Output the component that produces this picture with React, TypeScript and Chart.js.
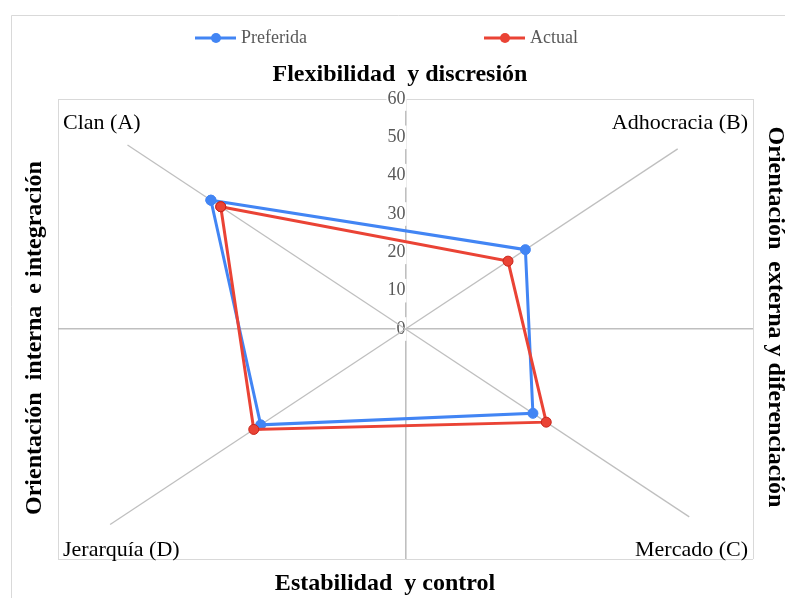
import React, { useEffect, useRef } from 'react';
import { Chart, registerables } from 'chart.js';

Chart.register(...registerables);

// ---- data ----
const categories = ['Clan (A)', 'Adhocracia (B)', 'Mercado (C)', 'Jerarquía (D)'];
const dirX = [-1, 1, 1, -1];
const dirY = [1, 1, -1, -1];
const preferida = [33.6, 20.7, 22, 25];
const actual = [31.9, 17.7, 24.3, 26.2];
const seriesNames = ['Preferida', 'Actual'];
const seriesColors = ['#4285F4', '#EA4335'];
const axisMin = -60;
const axisMax = 60;
const yStep = 10;
const spokeLengths = [48, 47, 49, 51];
const titleTop = 'Flexibilidad  y discresión';
const titleBottom = 'Estabilidad  y control';
const titleLeft = 'Orientación  interna  e integración';
const titleRight = 'Orientación  externa y diferenciación';

const SERIF = "'Liberation Serif', 'Times New Roman', serif";

function polygon(values: number[]) {
  const pts = values.map((v, i) => ({ x: dirX[i] * v, y: dirY[i] * v }));
  pts.push(pts[0]);
  return pts;
}

const textPlugin = {
  id: 'quadrantText',
  beforeDraw(chart: any) {
    const { ctx, width, height } = chart;
    ctx.save();
    ctx.fillStyle = '#ffffff';
    ctx.fillRect(0, 0, width, height);
    ctx.strokeStyle = '#d9d9d9';
    ctx.lineWidth = 1;
    ctx.beginPath();
    ctx.moveTo(11.5, height);
    ctx.lineTo(11.5, 15.5);
    ctx.lineTo(width, 15.5);
    ctx.stroke();
    ctx.restore();
  },
  afterDraw(chart: any) {
    const { ctx, chartArea: a } = chart;
    ctx.save();
    // category labels
    ctx.font = `22px ${SERIF}`;
    ctx.fillStyle = '#000000';
    ctx.textBaseline = 'middle';
    categories.forEach((c, i) => {
      const left = dirX[i] < 0;
      ctx.textAlign = left ? 'left' : 'right';
      const x = left ? a.left + 5 : a.right - 5;
      const y = dirY[i] > 0 ? a.top + 24 : a.bottom - 9;
      ctx.fillText(c, x, y);
    });
    // titles
    ctx.font = `bold 24px ${SERIF}`;
    ctx.textAlign = 'center';
    ctx.fillText(titleTop, 400, 75);
    ctx.fillText(titleBottom, 385, 584);
    ctx.save();
    ctx.translate(35, 338);
    ctx.rotate(-Math.PI / 2);
    ctx.fillText(titleLeft, 0, 0);
    ctx.restore();
    ctx.save();
    ctx.translate(775, 317);
    ctx.rotate(Math.PI / 2);
    ctx.fillText(titleRight, 0, 0);
    ctx.restore();
    // legend
    const legendX = [195, 484];
    const ly = 38;
    ctx.font = `18px ${SERIF}`;
    ctx.textAlign = 'left';
    seriesNames.forEach((name, i) => {
      const x0 = legendX[i];
      ctx.strokeStyle = seriesColors[i];
      ctx.lineWidth = 3;
      ctx.beginPath();
      ctx.moveTo(x0, ly);
      ctx.lineTo(x0 + 41, ly);
      ctx.stroke();
      ctx.fillStyle = seriesColors[i];
      ctx.beginPath();
      ctx.arc(x0 + 21, ly, 5, 0, Math.PI * 2);
      ctx.fill();
      ctx.fillStyle = '#595959';
      ctx.fillText(name, x0 + 46, ly);
    });
    ctx.restore();
  },
};

export default function App() {
  const ref = useRef<HTMLCanvasElement | null>(null);

  useEffect(() => {
    if (!ref.current) return;
    const spokes = categories.map((c, i) => ({
      label: 'spoke ' + c,
      data: [
        { x: 0, y: 0 },
        { x: dirX[i] * spokeLengths[i], y: dirY[i] * spokeLengths[i] },
      ],
      showLine: true,
      borderColor: '#bfbfbf',
      borderWidth: 1.3,
      pointRadius: 0,
      order: 3,
    }));
    const chart = new Chart(ref.current, {
      type: 'scatter',
      data: {
        datasets: [
          ...spokes,
          {
            label: seriesNames[0],
            data: polygon(preferida),
            showLine: true,
            borderColor: seriesColors[0],
            backgroundColor: seriesColors[0],
            borderWidth: 3,
            pointRadius: 5,
            pointBorderWidth: 1,
            pointBorderColor: seriesColors[0],
            order: 2,
          },
          {
            label: seriesNames[1],
            data: polygon(actual),
            showLine: true,
            borderColor: seriesColors[1],
            backgroundColor: seriesColors[1],
            borderWidth: 3,
            pointRadius: 5,
            pointBorderWidth: 1,
            pointBorderColor: '#c9241a',
            order: 1,
          },
        ],
      },
      options: {
        animation: false,
        responsive: false,
        devicePixelRatio: 1,
        layout: { padding: { left: 58, right: 32, top: 99, bottom: 39 } },
        plugins: { legend: { display: false }, tooltip: { enabled: false }, title: { display: false } },
        scales: {
          x: {
            type: 'linear',
            position: { y: 0 } as any,
            min: axisMin,
            max: axisMax,
            afterFit: (s: any) => { s.height = 0; },
            ticks: { display: false, stepSize: axisMax },
            grid: {
              drawTicks: false,
              color: (c: any) => (c.tick && c.tick.value === 0 ? '#bfbfbf' : '#d9d9d9'),
              lineWidth: (c: any) => (c.tick && c.tick.value === 0 ? 1.6 : 1),
            },
            border: { display: false },
          },
          y: {
            type: 'linear',
            position: { x: 0 } as any,
            min: axisMin,
            max: axisMax,
            afterFit: (s: any) => { s.width = 0; },
            ticks: {
              stepSize: yStep,
              autoSkip: false,
              callback: (v: any) => (v >= 0 ? String(v) : ''),
              font: { family: SERIF, size: 18 },
              color: '#595959',
              padding: 9,
              showLabelBackdrop: (c: any) => c.tick && c.tick.value >= 0,
              backdropColor: '#ffffff',
              backdropPadding: 1,
            } as any,
            grid: {
              drawTicks: false,
              color: (c: any) => {
                const v = c.tick ? c.tick.value : NaN;
                if (v === 0) return '#bfbfbf';
                if (v === axisMin || v === axisMax) return '#d9d9d9';
                return 'rgba(0,0,0,0)';
              },
              lineWidth: (c: any) => (c.tick && c.tick.value === 0 ? 1.6 : 1),
            },
            border: { display: false },
          },
        },
      },
      plugins: [textPlugin],
    });
    return () => chart.destroy();
  }, []);

  return (
    <div style={{ position: 'absolute', left: 0, top: 0, width: 785, height: 598 }}>
      <canvas ref={ref} width={785} height={598} />
    </div>
  );
}
